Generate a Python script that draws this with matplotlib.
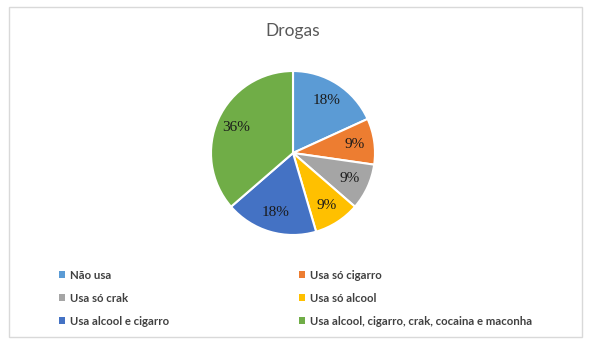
import matplotlib.pyplot as plt
from matplotlib.patches import Rectangle, Patch

categories = ["Não usa", "Usa só cigarro", "Usa só crak", "Usa só alcool",
              "Usa alcool e cigarro", "Usa alcool, cigarro, crak, cocaina e maconha"]
counts = [2, 1, 1, 1, 2, 4]
colors = ["#5B9BD5", "#ED7D31", "#A5A5A5", "#FFC000", "#4472C4", "#70AD47"]

W, H = 589, 347
fig = plt.figure(figsize=(W / 100, H / 100), dpi=100)
fig.patch.set_facecolor("white")

# outer chart frame
fig.add_artist(Rectangle((9 / W, 10 / H), 573 / W, 330 / H, transform=fig.transFigure,
                         fill=False, edgecolor="#D9D9D9", linewidth=1))

fig.text(293 / W, 1 - 31 / H, "Drogas", ha="center", va="center",
         fontsize=12.5, color="#595959", family="Lato")

R = 82
cx, cy = 293, 153
ax = fig.add_axes([(cx - R) / W, 1 - (cy + R) / H, 2 * R / W, 2 * R / H])
wedges, texts, autotexts = ax.pie(
    counts, colors=colors, startangle=90, counterclock=False,
    autopct="%1.0f%%", pctdistance=0.76,
    wedgeprops=dict(edgecolor="white", linewidth=1.5),
    textprops=dict(family="Liberation Serif", fontsize=11, color="#1a1a1a"))
ax.set_aspect("equal")
ax.set_xlim(-1, 1)
ax.set_ylim(-1, 1)

handles = [Patch(facecolor=c, edgecolor="none") for c in colors]
col1 = [0, 2, 4]
col2 = [1, 3, 5]
for idx, x0 in ((col1, 53), (col2, 293)):
    leg = fig.legend([handles[i] for i in idx], [categories[i] for i in idx],
                     loc="upper left", bbox_to_anchor=(x0 / W, 1 - 264 / H),
                     frameon=False, handlelength=0.55, handleheight=0.55,
                     handletextpad=0.45, labelspacing=1.05, borderpad=0,
                     prop=dict(family="Lato", size=8.2, weight="bold"))
    for t in leg.get_texts():
        t.set_color("#404040")

fig.savefig("out.png", dpi=100)
